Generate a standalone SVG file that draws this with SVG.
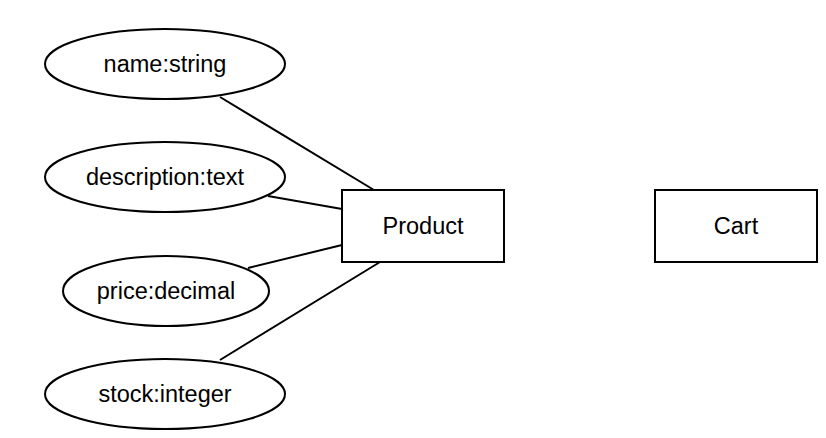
<svg xmlns="http://www.w3.org/2000/svg" width="826" height="438" viewBox="0 0 826 438">
<style>
.shape{fill:#fff;stroke:#000;stroke-width:2}
.lbl{font-family:"Liberation Sans",Arial,sans-serif;font-size:23.5px;fill:#000;text-anchor:middle}
.edge{stroke:#000;stroke-width:2;fill:none}
</style>
<rect width="826" height="438" fill="#fff"/>
<g id="connectors">
<line class="edge" x1="220" y1="97" x2="374" y2="190"/>
<line class="edge" x1="268" y1="196" x2="342" y2="209"/>
<line class="edge" x1="248" y1="268" x2="342" y2="245"/>
<line class="edge" x1="220" y1="360" x2="380" y2="262"/>
</g>
<g id="name">
<ellipse class="shape" cx="165" cy="64" rx="120" ry="35"/>
<text class="lbl" x="165" y="72">name:string</text>
</g>
<g id="description">
<ellipse class="shape" cx="165" cy="177" rx="120" ry="35"/>
<text class="lbl" x="165" y="185">description:text</text>
</g>
<g id="price">
<ellipse class="shape" cx="166" cy="291" rx="103" ry="35"/>
<text class="lbl" x="166" y="299">price:decimal</text>
</g>
<g id="stock">
<ellipse class="shape" cx="165" cy="394" rx="120" ry="35"/>
<text class="lbl" x="165" y="402">stock:integer</text>
</g>
<g id="product">
<rect class="shape" x="342" y="190" width="162" height="72"/>
<text class="lbl" x="423" y="234">Product</text>
</g>
<g id="cart">
<rect class="shape" x="655" y="190" width="162" height="72"/>
<text class="lbl" x="736" y="234">Cart</text>
</g>
</svg>
